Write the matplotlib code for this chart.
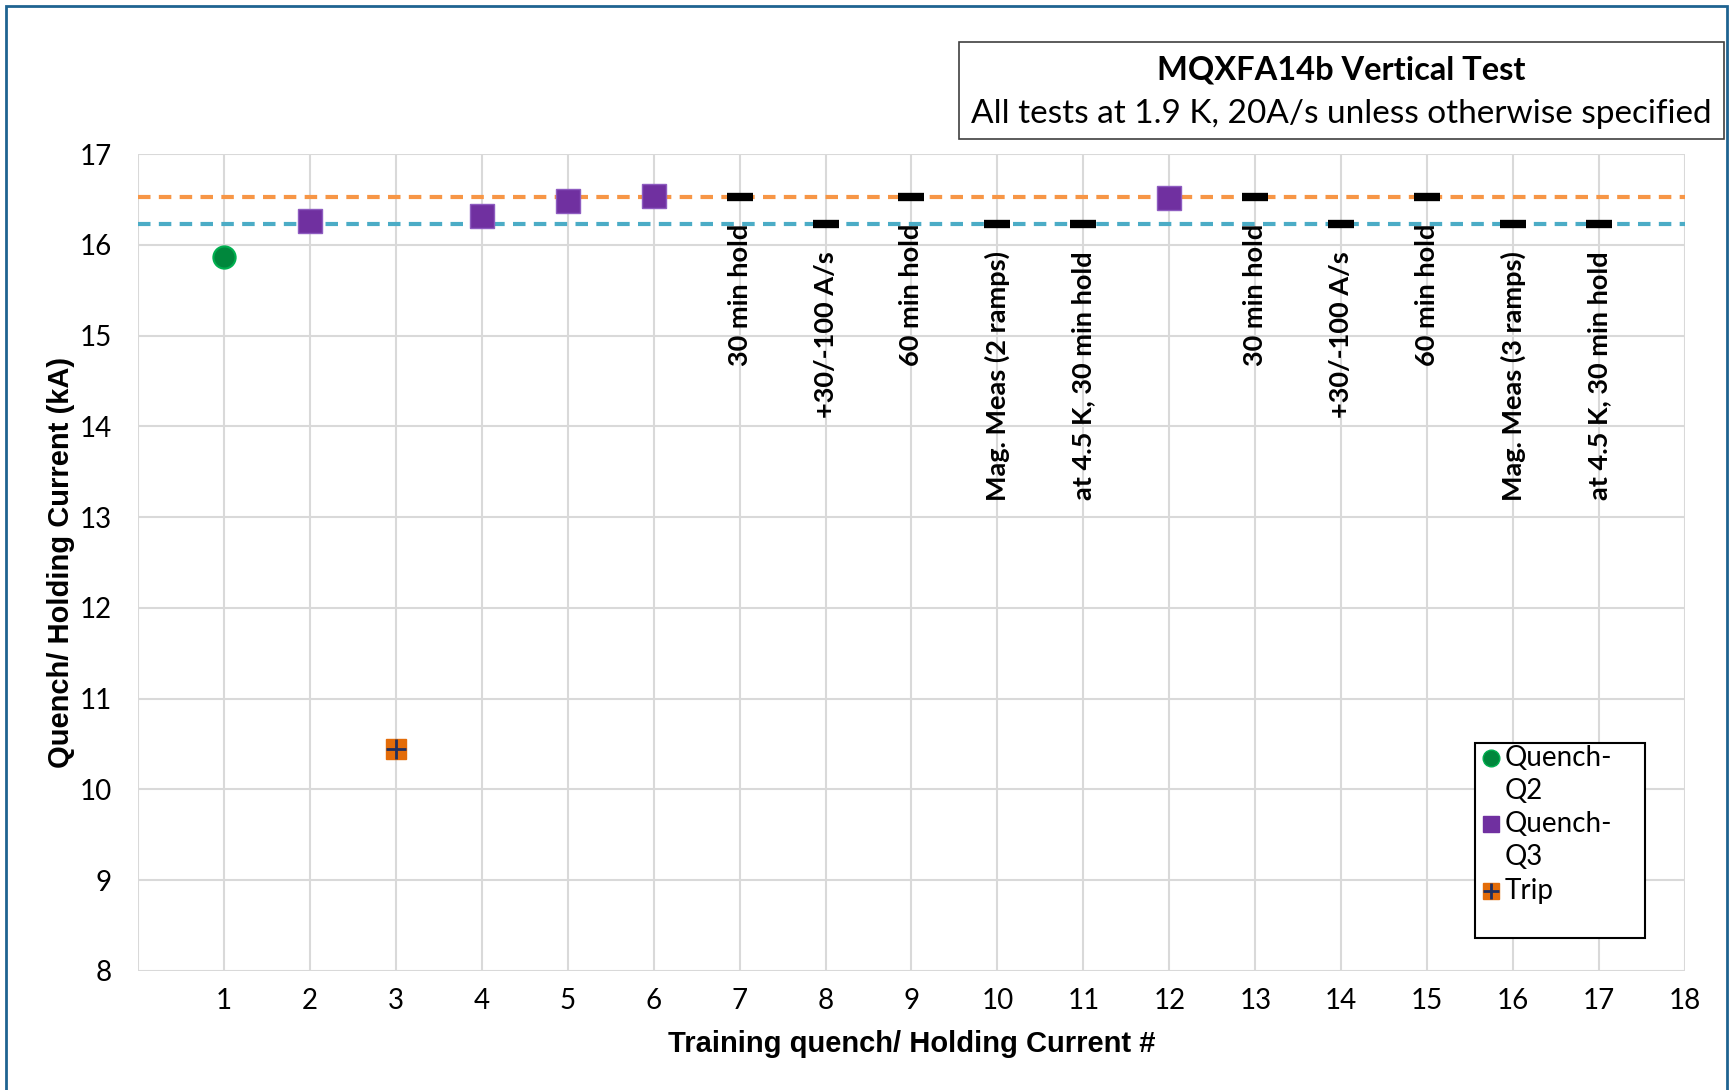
import numpy as np
import matplotlib.pyplot as plt
from matplotlib.patches import Rectangle

# training quenches
q2_x = [1]
q2_y = [15.86]
q3_x = [2, 4, 5, 6, 12]
q3_y = [16.26, 16.32, 16.48, 16.54, 16.51]
trip_x = [3]
trip_y = [10.45]

# holding currents
hold_x = [7, 8, 9, 10, 11, 13, 14, 15, 16, 17]
hold_y = [16.53, 16.23, 16.53, 16.23, 16.23, 16.53, 16.23, 16.53, 16.23, 16.23]
hold_labels = ["30 min hold", "+30/-100 A/s", "60 min hold", "Mag. Meas (2 ramps)",
               "at 4.5 K, 30 min hold", "30 min hold", "+30/-100 A/s", "60 min hold",
               "Mag. Meas (3 ramps)", "at 4.5 K, 30 min hold"]

ref_hi = 16.53
ref_lo = 16.23

legend_labels = ["Quench-\nQ2", "Quench-\nQ3", "Trip"]

calibri = ["Lato", "DejaVu Sans"]
arial = ["Liberation Sans", "DejaVu Sans"]

fig = plt.figure(figsize=(17.33, 10.90), dpi=100)
ax = fig.add_axes([0.0796, 0.1092, 0.8927, 0.7495])

ax.axhline(ref_hi, color="#F79646", lw=3, ls=(0, (3, 2)), zorder=2)
ax.axhline(ref_lo, color="#4BACC6", lw=3, ls=(0, (3, 2)), zorder=2)

ax.plot(q2_x, q2_y, "o", ms=16, color="#00873C", mec="#00B050", mew=1.5, zorder=4)
ax.plot(q3_x, q3_y, "s", ms=17, color="#7030A0", mec="#8E5CC0", mew=1, zorder=4)
ax.plot(trip_x, trip_y, "s", ms=15, color="#E36C09", zorder=4)
ax.plot(trip_x, trip_y, "+", ms=15, color="#1F2F5F", mew=2, zorder=5)
ax.plot(hold_x, hold_y, "_", ms=19, color="black", mew=6, zorder=5)

for x, y, lab in zip(hold_x, hold_y, hold_labels):
    ax.text(x, y - 0.3, lab, rotation=90, ha="center", va="top",
            fontsize=19.5, fontweight="bold", family=calibri, zorder=6)

ax.set_xlim(0, 18)
ax.set_ylim(8, 17)
ax.set_xticks(range(0, 19))
ax.set_xticklabels([""] + [str(i) for i in range(1, 19)])
ax.set_yticks(range(8, 18))
ax.grid(True, color="#D9D9D9", lw=1.5, zorder=0)
ax.set_axisbelow(True)
for s in ax.spines.values():
    s.set_visible(False)
ax.tick_params(length=0, labelsize=20)
ax.tick_params(axis="x", pad=12)
ax.tick_params(axis="y", pad=19)
for t in ax.get_xticklabels() + ax.get_yticklabels():
    t.set_family(calibri)

ax.set_xlabel("Training quench/ Holding Current #", fontsize=21, fontweight="bold",
              family=arial, labelpad=12)
ax.set_ylabel("Quench/ Holding Current (kA)", fontsize=21, fontweight="bold",
              family=arial, labelpad=3)

# legend, drawn by hand so the marker sits on the first line of a wrapped label
lx0, lx1, ly0, ly1 = 0.864, 0.974, 0.040, 0.279
ax.add_patch(Rectangle((lx0, ly0), lx1 - lx0, ly1 - ly0, transform=ax.transAxes,
                       fill=True, fc="white", ec="black", lw=1.5, zorder=7))
line_h = 0.0405
ty = 0.2605
mx = lx0 + 0.0105
tx = lx0 + 0.0195
entry_y = []
for lab in legend_labels:
    entry_y.append(ty)
    for part in lab.split("\n"):
        ax.text(tx, ty, part, transform=ax.transAxes, ha="left", va="center",
                fontsize=20, family=calibri, zorder=8)
        ty -= line_h

ax.plot([mx], [entry_y[0]], "o", ms=12, color="#00873C", mec="#00B050",
        transform=ax.transAxes, zorder=8, clip_on=False)
ax.plot([mx], [entry_y[1]], "s", ms=12, color="#7030A0",
        transform=ax.transAxes, zorder=8, clip_on=False)
ax.plot([mx], [entry_y[2]], "s", ms=12, color="#E36C09",
        transform=ax.transAxes, zorder=8, clip_on=False)
ax.plot([mx], [entry_y[2]], "+", ms=12, mew=2, color="#1F2F5F",
        transform=ax.transAxes, zorder=9, clip_on=False)

# title box
fig.patches.append(Rectangle((959 / 1733, 1 - 139 / 1090), (1724 - 959) / 1733, 97 / 1090,
                             transform=fig.transFigure, fill=False, ec="#404040", lw=1.2))
cx = (959 + 1724) / 2 / 1733
fig.text(cx, 1 - 70 / 1090, "MQXFA14b Vertical Test", ha="center", va="center",
         fontsize=23.5, fontweight="bold", family=calibri)
fig.text(cx, 1 - 114 / 1090, "All tests at 1.9 K, 20A/s unless otherwise specified",
         ha="center", va="center", fontsize=24, family=calibri)

# outer frame
fig.patches.append(Rectangle((6 / 1733, -0.01), (1727 - 6) / 1733, 1.01 - 6 / 1090,
                             transform=fig.transFigure, fill=False, ec="#1F6391", lw=2))

fig.savefig("out.png", dpi=100)
